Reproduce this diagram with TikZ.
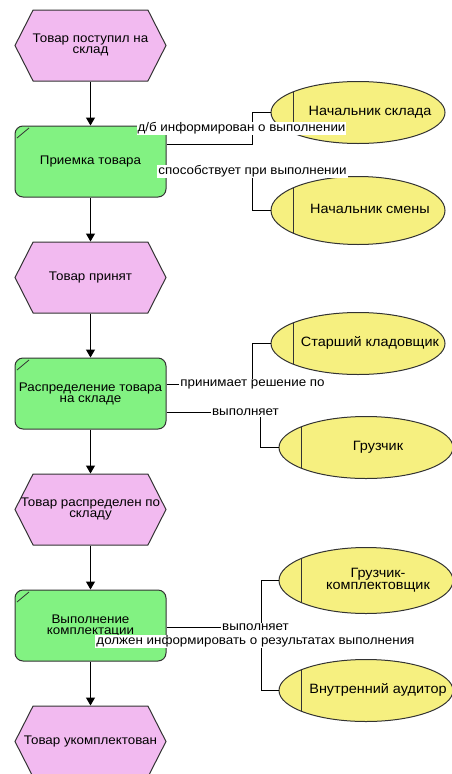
\documentclass[tikz,border=0pt]{standalone}
\usepackage{fontspec}
\setmainfont{Liberation Sans}[FakeStretch=1.07]
\usepackage{xcolor}
\usepackage{tikz}
\usetikzlibrary{arrows.meta, positioning, shapes.geometric, shapes.symbols}
\definecolor{evpink}{RGB}{242,186,240}
\definecolor{fngreen}{RGB}{130,242,130}
\definecolor{roleyellow}{RGB}{246,240,128}
\newcommand{\evtext}[1]{\makebox[0pt]{\begin{tabular}{@{}c@{}}#1\end{tabular}}}
\newcommand{\roletext}[1]{\makebox[0pt]{\hspace*{24pt}\begin{tabular}{@{}c@{}}#1\end{tabular}}}

\begin{document}
\begin{tikzpicture}[
      x=1pt, y=1pt,
      node distance=44pt and 104pt,
      font=\fontsize{12.5}{11}\selectfont,
      event/.style={signal, signal to=west and east, signal pointer angle=126, draw=black!80, line width=1pt, fill=evpink, minimum width=151pt, minimum height=71pt, inner sep=0pt},
      func/.style={draw=black!80, line width=1pt, rounded corners=8pt, fill=fngreen, minimum width=151pt, minimum height=71pt, align=center, inner sep=0pt,
        path picture={\draw[black!80, line width=0.8pt] ([xshift=2pt,yshift=-12pt]path picture bounding box.north west) -- ([xshift=14pt,yshift=-2pt]path picture bounding box.north west);}},
      role/.style={ellipse, draw=black!80, line width=1pt, fill=roleyellow, minimum width=174pt, minimum height=62pt, inner sep=0pt,
        font=\fontsize{13.5}{12}\selectfont,
        path picture={\draw[black!80, line width=1pt] ([xshift=22pt]path picture bounding box.south west) -- ([xshift=22pt]path picture bounding box.north west);}},
      lbl/.style={fill=white, inner sep=1pt},
      arr/.style={-{Triangle[width=9pt,length=8pt]}, line width=1.2pt},
      con/.style={line width=0.9pt}
    ]
    \useasboundingbox (0,0) rectangle (452,-774);

    \node[event] (ev1) at (90.5,-45.5) {\evtext{Товар поступил на\\склад}};
    \node[func, below=of ev1] (fn1) {Приемка товара};
    \node[event, below=of fn1] (ev2) {\evtext{Товар принят}};
    \node[func, below=of ev2] (fn2) {Распределение товара\\на складе};
    \node[event, below=of fn2] (ev3) {\evtext{Товар распределен по\\складу}};
    \node[func, below=of ev3] (fn3) {Выполнение\\комплектации};
    \node[event, below=of fn3] (ev4) {\evtext{Товар укомплектован}};

    \node[role, right=of fn1, yshift=49pt] (e1) {\roletext{Начальник склада}};
    \node[role, right=of fn1, yshift=-49pt, minimum height=68pt] (e2) {\roletext{Начальник смены}};
    \node[role, right=of fn2, yshift=50pt] (e3) {\roletext{Старший кладовщик}};
    \node[role, right=112pt of fn2, yshift=-54pt] (e4) {\roletext{Грузчик}};
    \node[role, right=112pt of fn3, yshift=45pt, minimum height=66pt] (e5) {\roletext{Грузчик-\\комплектовщик}};
    \node[role, right=112pt of fn3, yshift=-65pt] (e6) {\roletext{Внутренний аудитор}};

    \draw[arr] (ev1) -- (fn1);
    \draw[arr] (fn1) -- (ev2);
    \draw[arr] (ev2) -- (fn2);
    \draw[arr] (fn2) -- (ev3);
    \draw[arr] (ev3) -- (fn3);
    \draw[arr] (fn3) -- (ev4);

    \draw[con] ([yshift=17pt]fn1.east) -| ([xshift=-18pt]e1.west) node[lbl, pos=.75, xshift=-11pt]{д/б информирован о выполнении} -- (e1);
    \draw[con] ([yshift=-10pt]fn1.east) -| ([xshift=-18pt]e2.west) node[lbl, pos=.5]{способствует при выполнении} -- (e2);
    \draw[con] ([yshift=9pt]fn2.east) -| ([xshift=-18pt]e3.west) node[lbl, pos=.5]{принимает решение по} -- (e3);
    \draw[con] ([yshift=-19pt]fn2.east) -| ([xshift=-18pt]e4.west) node[lbl, pos=.42]{выполняет} -- (e4);
    \draw[con] ([yshift=-2pt]fn3.east) -| ([xshift=-17pt]e5.west) node[lbl, pos=.5, xshift=-6pt]{выполняет} -- (e5);
    \draw[con] ([yshift=-16pt]fn3.east) -| ([xshift=-17pt]e6.west) node[lbl, pos=.5, xshift=-6pt]{должен информировать о результатах выполнения} -- (e6);
  \end{tikzpicture}
\end{document}
